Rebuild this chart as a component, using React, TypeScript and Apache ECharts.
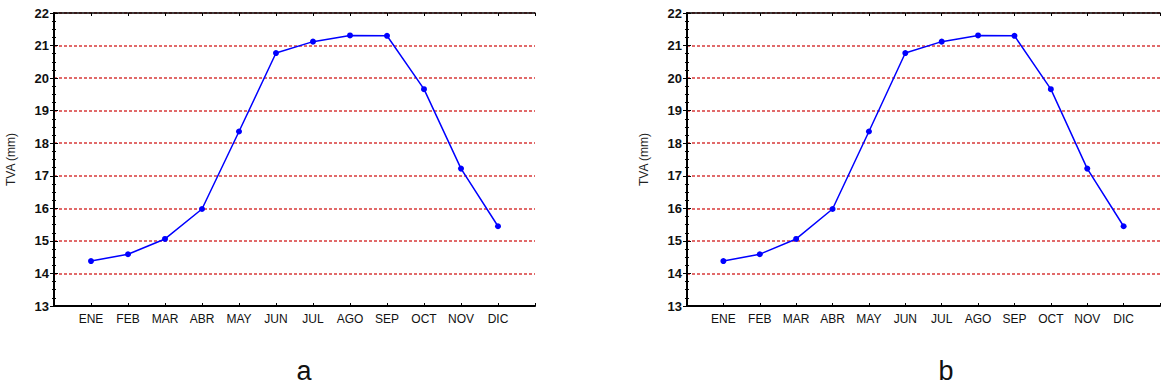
import React, { useEffect, useRef } from "react";
import * as echarts from "echarts";

// Monthly TVA values (mm), months in Spanish
const months = ["ENE", "FEB", "MAR", "ABR", "MAY", "JUN", "JUL", "AGO", "SEP", "OCT", "NOV", "DIC"];
const tvaA = [14.38, 14.59, 15.06, 15.98, 18.36, 20.77, 21.12, 21.31, 21.3, 19.66, 17.22, 15.45];
const tvaB = [14.38, 14.59, 15.06, 15.98, 18.36, 20.77, 21.12, 21.31, 21.3, 19.66, 17.22, 15.45];
const panelLabels = ["a", "b"];
const yMin = 13;
const yMax = 22;

const FONT = "'Liberation Sans', Arial, sans-serif";

export default function App() {
  const ref = useRef<HTMLDivElement>(null);

  useEffect(() => {
    if (!ref.current) return;
    const chart = echarts.init(ref.current, undefined, { renderer: "svg" });

    const panels = [
      { left: 54, data: tvaA, label: panelLabels[0], labelX: 304 },
      { left: 687, data: tvaB, label: panelLabels[1], labelX: 946 },
    ];

    const grids: any[] = [];
    const xAxes: any[] = [];
    const yAxes: any[] = [];
    const series: any[] = [];

    panels.forEach((p, i) => {
      grids.push({ left: p.left, top: 13, width: 481, height: 293, containLabel: false });

      // bottom month axis
      xAxes.push({
        type: "value",
        gridIndex: i,
        position: "bottom",
        min: 0,
        max: 13,
        interval: 1,
        axisLine: { show: true, lineStyle: { color: "#000", width: 2 } },
        axisTick: { show: true, inside: true, length: 3, lineStyle: { color: "#000", width: 1 } },
        axisLabel: {
          show: true,
          showMinLabel: true,
          showMaxLabel: true,
          color: "#111",
          fontFamily: FONT,
          fontSize: 12,
          margin: 7,
          formatter: (v: number) => months[v - 1] ?? "",
        },
        splitLine: { show: false },
      });
      // top frame axis
      xAxes.push({
        type: "value",
        gridIndex: i,
        position: "top",
        min: 0,
        max: 13,
        interval: 1,
        axisLine: { show: true, onZero: false, lineStyle: { color: "#000", width: 1.5 } },
        axisTick: { show: true, inside: true, length: 3, lineStyle: { color: "#000", width: 1 } },
        axisLabel: { show: false },
        splitLine: { show: false },
      });

      // left value axis
      yAxes.push({
        type: "value",
        gridIndex: i,
        position: "left",
        min: yMin,
        max: yMax,
        interval: 1,
        name: "TVA (mm)",
        nameLocation: "middle",
        nameGap: 37,
        nameRotate: 90,
        nameTextStyle: { color: "#222", fontFamily: FONT, fontSize: 12 },
        axisLine: { show: true, lineStyle: { color: "#000", width: 2 } },
        axisTick: { show: true, inside: true, length: 4, lineStyle: { color: "#000", width: 1 } },
        minorTick: { show: true, splitNumber: 4, length: 2, lineStyle: { color: "#000", width: 1 } },
        axisLabel: {
          color: "#111",
          fontFamily: FONT,
          fontSize: 13,
          fontWeight: "bold",
          margin: 5,
        },
        splitLine: {
          show: true,
          lineStyle: { color: "#d83a3a", width: 1.5, type: [3, 2] },
        },
      });
      // right frame axis
      yAxes.push({
        type: "value",
        gridIndex: i,
        position: "right",
        min: yMin,
        max: yMax,
        interval: 1,
        axisLine: { show: true, lineStyle: { color: "#000", width: 1.5 } },
        axisTick: { show: true, inside: true, length: 4, lineStyle: { color: "#000", width: 1 } },
        minorTick: { show: true, splitNumber: 4, length: 2, lineStyle: { color: "#000", width: 1 } },
        axisLabel: { show: false },
        splitLine: { show: false },
      });

      series.push({
        type: "line",
        xAxisIndex: i * 2,
        yAxisIndex: i * 2,
        data: p.data.map((v, k) => [k + 1, v]),
        symbol: "circle",
        symbolSize: 6,
        itemStyle: { color: "#0000ff" },
        lineStyle: { color: "#0000ff", width: 1.5 },
        z: 5,
      });
    });

    chart.setOption({
      animation: false,
      backgroundColor: "#fff",
      grid: grids,
      xAxis: xAxes,
      yAxis: yAxes,
      series,
      graphic: panels.map((p) => ({
        type: "text",
        x: p.labelX,
        y: 371,
        style: {
          text: p.label,
          fill: "#111",
          font: `27px ${FONT}`,
          textAlign: "center",
          textVerticalAlign: "middle",
        },
      })),
    });

    return () => chart.dispose();
  }, []);

  return (
    <div
      ref={ref}
      style={{ position: "fixed", left: 0, top: 0, width: 1163, height: 388 }}
    />
  );
}
